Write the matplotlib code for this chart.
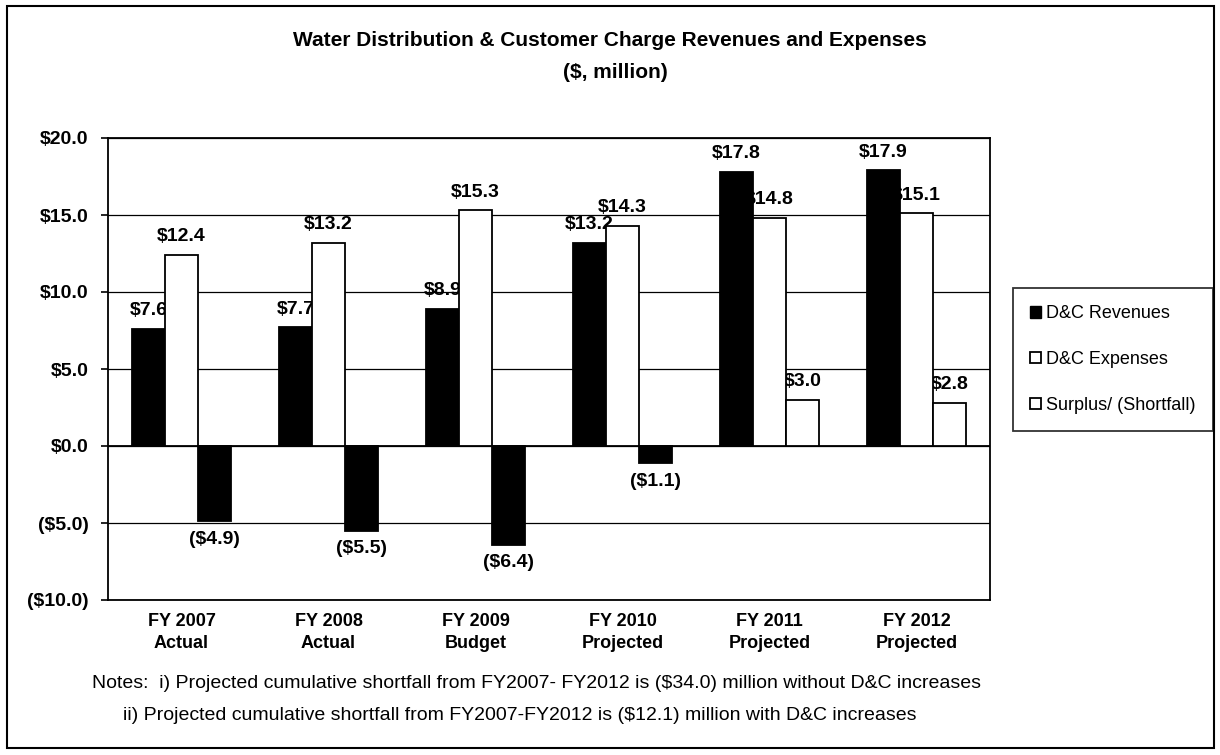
import matplotlib
matplotlib.use("Agg")
import matplotlib.pyplot as plt
from matplotlib.patches import Rectangle
import numpy as np

plt.rcParams["font.family"] = ["Liberation Sans", "DejaVu Sans"]

years = ["FY 2007\nActual", "FY 2008\nActual", "FY 2009\nBudget",
         "FY 2010\nProjected", "FY 2011\nProjected", "FY 2012\nProjected"]
revenues = [7.6, 7.7, 8.9, 13.2, 17.8, 17.9]
expenses = [12.4, 13.2, 15.3, 14.3, 14.8, 15.1]
surplus = [-4.9, -5.5, -6.4, -1.1, 3.0, 2.8]

def money(v):
    return "(${:.1f})".format(-v) if v < 0 else "${:.1f}".format(v)

fig = plt.figure(figsize=(12.2, 7.55), dpi=100)
W, H = 1220, 755
ax = fig.add_axes([108 / W, 1 - 600 / H, (990 - 108) / W, (600 - 138) / H])

x = np.arange(len(years))
w = 0.225
sur_colors = ["black" if v < 0 else "white" for v in surplus]

ax.bar(x - w, revenues, w, color="black", edgecolor="black", lw=1.3, zorder=3)
ax.bar(x, expenses, w, color="white", edgecolor="black", lw=1.3, zorder=3)
ax.bar(x + w, surplus, w, color=sur_colors, edgecolor="black", lw=1.3, zorder=3)

# value labels sit under the bars, so neighbours clip them like in Excel
for series, off in [(revenues, -w), (expenses, 0), (surplus, w)]:
    for xi, v in zip(x, series):
        dy = 7 if v >= 0 else -7
        ax.annotate(money(v), (xi + off, v), xytext=(0, dy), textcoords="offset points",
                    ha="center", va="bottom" if v >= 0 else "top",
                    fontsize=14, fontweight="bold", zorder=2)

ax.set_xlim(-0.5, len(years) - 0.5)
ax.set_ylim(-10, 20)
ticks = np.arange(-10, 21, 5)
ax.set_yticks(ticks)
ax.set_yticklabels([money(t) for t in ticks], fontsize=14, fontweight="bold")
ax.set_xticks(x)
ax.set_xticklabels(years, fontsize=13, fontweight="bold", linespacing=1.45)
ax.tick_params(axis="x", length=0, pad=9)
ax.tick_params(axis="y", length=5, width=1.2, pad=9)
ax.yaxis.grid(True, color="black", lw=0.9, zorder=0)
ax.axhline(0, color="black", lw=1.3, zorder=1)
for s in ax.spines.values():
    s.set_linewidth(1.3)

# legend
handles = [Rectangle((0, 0), 1, 1, fc="black", ec="black"),
           Rectangle((0, 0), 1, 1, fc="white", ec="black", lw=1.3),
           Rectangle((0, 0), 1, 1, fc="white", ec="black", lw=1.3)]
labels = ["D&C Revenues", "D&C Expenses", "Surplus/ (Shortfall)"]
leg = fig.legend(handles, labels, loc="upper left", bbox_to_anchor=(1013 / W, 1 - 288 / H),
                 fontsize=13, frameon=True, fancybox=False, edgecolor="black",
                 handlelength=0.6, handleheight=0.6, handletextpad=0.3,
                 labelspacing=1.6, borderpad=0.95, borderaxespad=0)
leg.get_frame().set_linewidth(1.3)

fig.text(610 / W, 1 - 40 / H, "Water Distribution & Customer Charge Revenues and Expenses",
         ha="center", va="center", fontsize=15, fontweight="bold")
fig.text(615 / W, 1 - 73 / H, "($, million)", ha="center", va="center",
         fontsize=15, fontweight="bold")

fig.text(92 / W, 1 - 684 / H,
         "Notes:  i) Projected cumulative shortfall from FY2007- FY2012 is ($34.0) million without D&C increases",
         ha="left", va="center", fontsize=14)
fig.text(123 / W, 1 - 715 / H,
         "ii) Projected cumulative shortfall from FY2007-FY2012 is ($12.1) million with D&C increases",
         ha="left", va="center", fontsize=14)

fig.add_artist(Rectangle((7 / W, 1 - 748 / H), (1214 - 7) / W, (748 - 6) / H,
                         transform=fig.transFigure, fill=False, ec="black", lw=1.5))

fig.savefig("out.png", dpi=100)
